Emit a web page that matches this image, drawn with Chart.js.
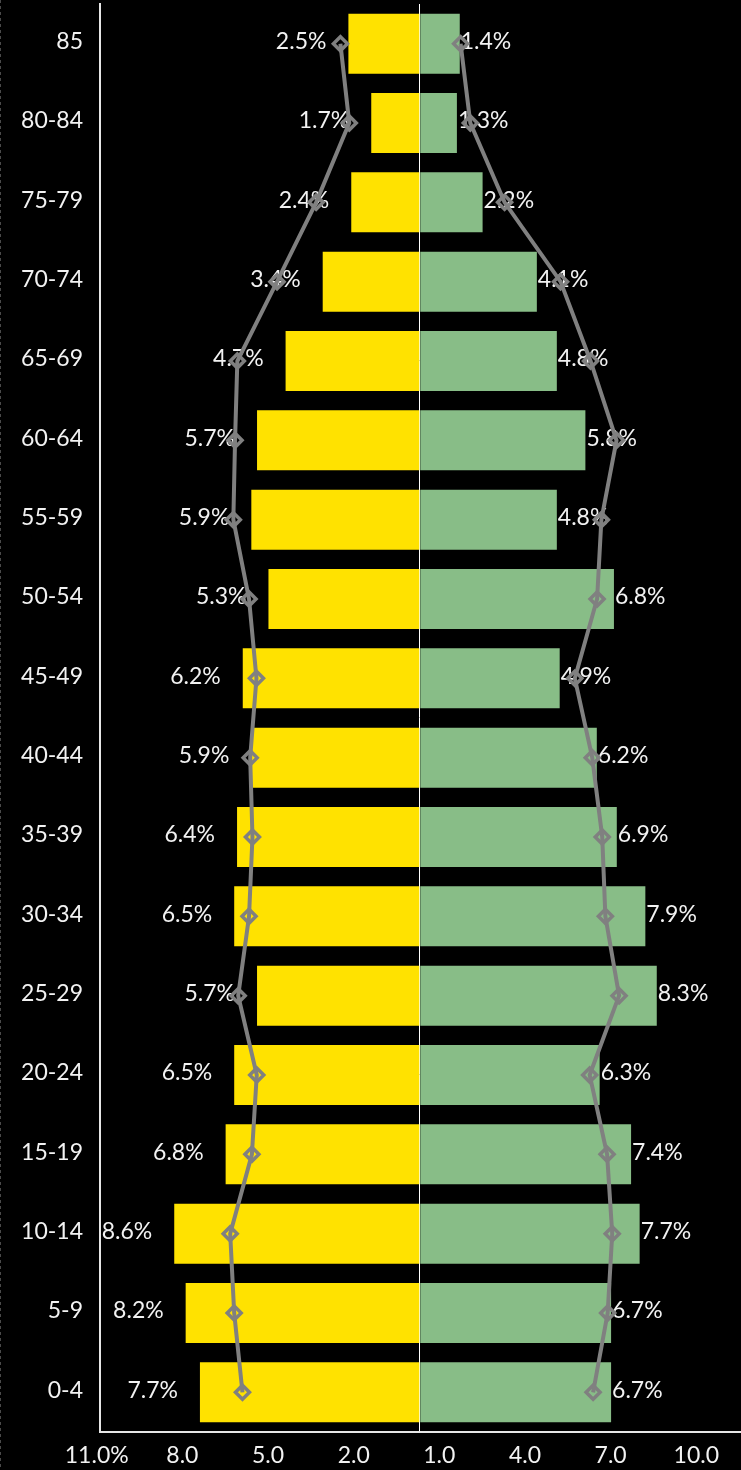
<!DOCTYPE html>
<html>
<head>
<meta charset="utf-8">
<script src="https://cdn.jsdelivr.net/npm/chart.js@4"></script>
<style>
  html, body { margin: 0; padding: 0; background: #000; }
  #wrap { width: 741px; height: 1470px; position: relative; }
  canvas { display: block; }
</style>
</head>
<body>
<div id="wrap"><canvas id="c" width="741" height="1470"></canvas></div>
<script>
// ---- data ----
const ageGroups = ['85','80-84','75-79','70-74','65-69','60-64','55-59','50-54','45-49','40-44','35-39','30-34','25-29','20-24','15-19','10-14','5-9','0-4'];
const leftBars  = [2.5,1.7,2.4,3.4,4.7,5.7,5.9,5.3,6.2,5.9,6.4,6.5,5.7,6.5,6.8,8.6,8.2,7.7];
const rightBars = [1.4,1.3,2.2,4.1,4.8,5.8,4.8,6.8,4.9,6.2,6.9,7.9,8.3,6.3,7.4,7.7,6.7,6.7];
const leftLine  = [2.78,2.47,3.63,5.00,6.39,6.47,6.53,5.98,5.72,5.94,5.86,5.98,6.36,5.71,5.88,6.64,6.50,6.21];
const rightLine = [1.43,1.77,2.97,4.93,5.98,6.89,6.36,6.21,5.43,6.04,6.39,6.50,6.98,5.95,6.56,6.74,6.58,6.07];
const xTickValues = [-11,-8,-5,-2,0,1,4,7,10];
const xTickLabels = ['11.0%','8.0','5.0','2.0','','1.0','4.0','7.0','10.0'];

const FONT = 'Lato, "Noto Sans", sans-serif';
const FONT_SIZE = 23;
const FONT_WEIGHT = 400;
const TEXT = '#f2f2f2';
const YELLOW = '#ffe200';
const GREEN = '#88bd87';
const GRAY = '#808080';

const labelPlugin = {
  id: 'barLabels',
  afterDatasetDraw(chart, args) {
    const ds = chart.data.datasets[args.index];
    if (!ds.labelSide) return;
    const ctx = chart.ctx;
    const src = ds.labelSide === 'left' ? leftBars : rightBars;
    ctx.save();
    ctx.font = FONT_WEIGHT + ' ' + FONT_SIZE + 'px ' + FONT;
    ctx.fillStyle = TEXT;
    ctx.textBaseline = 'middle';
    args.meta.data.forEach((el, i) => {
      const txt = src[i].toFixed(1) + '%';
      if (ds.labelSide === 'left') {
        ctx.textAlign = 'right';
        ctx.fillText(txt, el.x - 22, el.y - 2);
      } else {
        ctx.textAlign = 'left';
        ctx.fillText(txt, el.x + 1, el.y - 2);
      }
    });
    ctx.restore();
  }
};

const edgePlugin = {
  id: 'edge',
  beforeDraw(chart) {
    const ctx = chart.ctx;
    ctx.save();
    ctx.fillStyle = '#000';
    ctx.fillRect(0, 0, chart.width, chart.height);
    ctx.strokeStyle = '#4a4a4a';
    ctx.lineWidth = 1;
    ctx.setLineDash([3, 3]);
    ctx.beginPath();
    ctx.moveTo(0.5, 0);
    ctx.lineTo(0.5, chart.height);
    ctx.stroke();
    ctx.restore();
  }
};

Chart.defaults.font.family = FONT;
Chart.defaults.font.size = FONT_SIZE;
Chart.defaults.font.weight = FONT_WEIGHT;
Chart.defaults.color = TEXT;

const zeroPad = s => { s.paddingTop = 0; s.paddingBottom = 0; s.paddingLeft = 0; s.paddingRight = 0; };

const lineStyle = {
  type: 'line', indexAxis: 'y', order: 0,
  borderColor: GRAY, borderWidth: 4, tension: 0,
  pointStyle: 'rectRot', pointRadius: 7, pointBorderWidth: 3.5,
  pointBorderColor: GRAY, pointBackgroundColor: 'rgba(0,0,0,0)', clip: false
};

new Chart(document.getElementById('c'), {
  type: 'bar',
  data: {
    labels: ageGroups,
    datasets: [
      Object.assign({ data: leftLine.map(v => -v) }, lineStyle),
      Object.assign({ data: rightLine }, lineStyle),
      {
        type: 'bar', data: leftBars.map(v => -v), backgroundColor: YELLOW,
        grouped: false, order: 1, labelSide: 'left',
        categoryPercentage: 1, barPercentage: 0.756
      },
      {
        type: 'bar', data: rightBars, backgroundColor: GREEN,
        grouped: false, order: 1, labelSide: 'right',
        categoryPercentage: 1, barPercentage: 0.756
      }
    ]
  },
  options: {
    indexAxis: 'y',
    responsive: false,
    animation: false,
    devicePixelRatio: 1,
    layout: { autoPadding: false, padding: { top: 4, left: 0, right: 0, bottom: 0 } },
    plugins: { legend: { display: false }, tooltip: { enabled: false } },
    scales: {
      x: {
        type: 'linear', position: 'bottom', min: -11.2, max: 11.25, z: 1,
        afterBuildTicks: s => { s.ticks = xTickValues.map(v => ({ value: v })); },
        afterFit: s => { s.height = 38; zeroPad(s); },
        ticks: {
          autoSkip: false, maxRotation: 0, labelOffset: -9, padding: 10,
          color: TEXT, font: { size: FONT_SIZE, weight: FONT_WEIGHT },
          callback: (v, i) => xTickLabels[i]
        },
        grid: {
          drawTicks: false, lineWidth: 1,
          color: c => (c.tick && c.tick.value === 0) ? '#ffffff' : 'rgba(0,0,0,0)'
        },
        border: { display: true, color: '#e6e6e6', width: 2 }
      },
      y: {
        type: 'category', position: 'left', offset: true,
        afterFit: s => { s.width = 100; zeroPad(s); },
        ticks: { padding: 17, color: TEXT, font: { size: FONT_SIZE, weight: FONT_WEIGHT }, labelOffset: -2 },
        grid: { display: false, drawTicks: false },
        border: { display: true, color: '#e6e6e6', width: 2 }
      }
    }
  },
  plugins: [edgePlugin, labelPlugin]
});
</script>
</body>
</html>
